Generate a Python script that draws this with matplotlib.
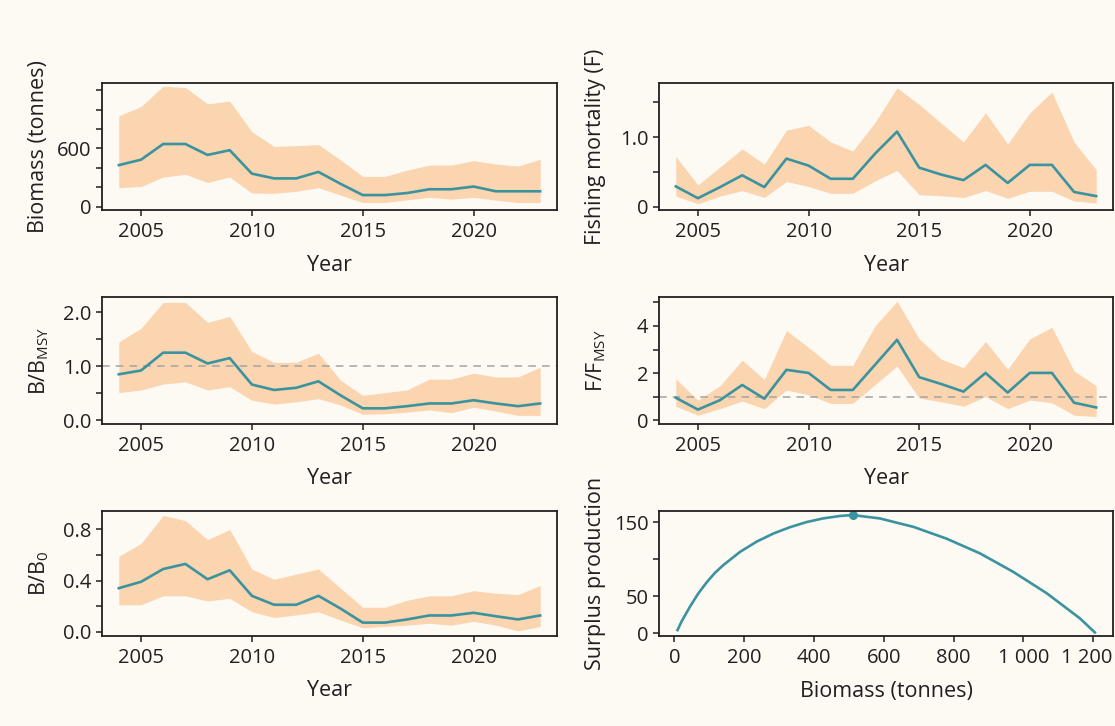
import numpy as np
import matplotlib.pyplot as plt
import matplotlib.transforms as mtransforms

# Stock assessment panels: biomass, fishing mortality, ratios and surplus production

years = list(range(2004, 2024))

# Biomass (tonnes)
biomass_mid = [428, 484, 646, 646, 533, 582, 340, 291, 291, 358,
               235, 119, 119, 140, 179, 179, 207, 158, 158, 158]
biomass_lo = [196, 207, 305, 333, 249, 305, 140, 137, 158, 196,
              119, 42, 42, 70, 95, 77, 95, 67, 42, 42]
biomass_hi = [937, 1032, 1242, 1228, 1060, 1088, 772, 621, 628, 639,
              481, 312, 312, 375, 428, 428, 474, 439, 418, 488]

# Fishing mortality (F)
f_mid = [0.29, 0.12, 0.28, 0.45, 0.28, 0.69, 0.59, 0.40, 0.40, 0.76,
         1.08, 0.56, 0.46, 0.38, 0.60, 0.34, 0.60, 0.60, 0.21, 0.15]
f_lo = [0.15, 0.04, 0.15, 0.23, 0.13, 0.36, 0.29, 0.19, 0.19, 0.37,
        0.52, 0.17, 0.155, 0.13, 0.23, 0.12, 0.22, 0.22, 0.08, 0.05]
f_hi = [0.72, 0.31, 0.57, 0.83, 0.61, 1.10, 1.17, 0.93, 0.80, 1.21,
        1.71, 1.47, 1.20, 0.93, 1.35, 0.90, 1.35, 1.65, 0.93, 0.53]

# B/BMSY
bbmsy_mid = [0.85, 0.92, 1.25, 1.25, 1.05, 1.15, 0.66, 0.56, 0.60, 0.72,
             0.46, 0.22, 0.22, 0.26, 0.31, 0.31, 0.37, 0.31, 0.26, 0.31]
bbmsy_lo = [0.51, 0.56, 0.67, 0.71, 0.56, 0.62, 0.37, 0.30, 0.34, 0.40,
            0.28, 0.11, 0.12, 0.15, 0.19, 0.14, 0.24, 0.17, 0.09, 0.09]
bbmsy_hi = [1.45, 1.70, 2.18, 2.18, 1.81, 1.92, 1.27, 1.07, 1.07, 1.24,
            0.74, 0.46, 0.51, 0.56, 0.76, 0.76, 0.87, 0.80, 0.80, 0.98]

# F/FMSY
ffmsy_mid = [0.96, 0.46, 0.86, 1.50, 0.92, 2.14, 2.01, 1.29, 1.29, 2.35,
             3.41, 1.83, 1.54, 1.22, 2.01, 1.18, 2.01, 2.01, 0.75, 0.55]
ffmsy_lo = [0.60, 0.22, 0.50, 0.82, 0.50, 1.29, 1.08, 0.72, 0.72, 1.51,
            2.30, 0.94, 0.79, 0.60, 1.01, 0.50, 0.86, 0.75, 0.22, 0.17]
ffmsy_hi = [1.76, 0.86, 1.47, 2.55, 1.73, 3.80, 3.09, 2.33, 2.33, 3.99,
            5.04, 3.45, 2.59, 2.23, 3.34, 2.16, 3.45, 3.94, 2.09, 1.47]

# B/B0
bb0_mid = [0.34, 0.39, 0.49, 0.53, 0.41, 0.48, 0.28, 0.21, 0.21, 0.28,
           0.18, 0.07, 0.07, 0.095, 0.126, 0.126, 0.147, 0.12, 0.095, 0.126]
bb0_lo = [0.21, 0.21, 0.28, 0.28, 0.24, 0.26, 0.155, 0.11, 0.13, 0.155,
          0.09, 0.03, 0.04, 0.05, 0.065, 0.05, 0.08, 0.05, 0.005, 0.04]
bb0_hi = [0.59, 0.69, 0.91, 0.87, 0.72, 0.80, 0.49, 0.41, 0.45, 0.49,
          0.34, 0.19, 0.19, 0.245, 0.28, 0.28, 0.32, 0.30, 0.29, 0.36]

# Surplus production curve
sp_biomass = [9, 21, 45, 69, 93, 117, 140, 188, 236, 284, 331, 379, 427, 475, 511,
              589, 685, 780, 876, 971, 1067, 1162, 1205]
sp_value = [4, 16, 36, 54, 69, 82, 92, 110, 124, 135, 143.5, 150.5, 155.5, 158.8, 160,
            155.4, 144, 128, 108, 83, 54, 20, 0.8]
msy_biomass = 511
msy_value = 160

# Colours
bg = '#fdf9f3'
band = '#fbd4b0'
teal = '#3a939e'
ink = '#231f20'

plt.rcParams['font.family'] = ['Open Sans', 'DejaVu Sans']
plt.rcParams['mathtext.fontset'] = 'custom'
plt.rcParams['mathtext.rm'] = 'Open Sans'
plt.rcParams['mathtext.it'] = 'Open Sans:italic'

W, H = 1115, 726
fig = plt.figure(figsize=(W / 100, H / 100), dpi=100, facecolor=bg)

tick_size = 14.5
label_size = 15.5


def make_axes(x0, x1, y0, y1):
    # pixel box -> figure fraction
    ax = fig.add_axes([x0 / W, 1 - y1 / H, (x1 - x0) / W, (y1 - y0) / H])
    ax.set_facecolor(bg)
    for s in ax.spines.values():
        s.set_color(ink)
        s.set_linewidth(1.3)
    ax.tick_params(direction='out', length=4.5, width=1.1, color=ink,
                   labelcolor=ink, labelsize=tick_size)
    ax.tick_params(axis='x', pad=4)
    ax.tick_params(axis='y', pad=3)
    return ax


def set_labels(ax, xlabel, ylabel, box_w, box_h):
    # fixed label lines, like R's mtext
    ax.set_xlabel(xlabel, fontsize=label_size, color=ink)
    ax.set_ylabel(ylabel, fontsize=label_size, color=ink)
    ax.xaxis.label.set_va('center')
    ax.yaxis.label.set_va('center')
    ax.xaxis.set_label_coords(0.5, -55 / box_h)
    ax.yaxis.set_label_coords(-63 / box_w, 0.5)


def time_panel(ax, mid, lo, hi, ylim, ticks, ticklabels, ylabel, box_w, box_h, ref=None):
    ax.fill_between(years, lo, hi, color=band, linewidth=0)
    if ref is not None:
        ax.axhline(ref, color='#a3a3a3', linestyle=(0, (5, 4)), linewidth=1.1)
    ax.plot(years, mid, color=teal, linewidth=1.9)
    ax.set_xlim(2003.24, 2023.76)
    ax.set_ylim(*ylim)
    ax.set_xticks([2005, 2010, 2015, 2020])
    ax.set_yticks(ticks)
    ax.set_yticklabels(ticklabels)
    set_labels(ax, 'Year', ylabel, box_w, box_h)


ax1 = make_axes(102, 557, 83, 210)
time_panel(ax1, biomass_mid, biomass_lo, biomass_hi, (-35, 1275),
           [0, 200, 400, 600, 800, 1000, 1200],
           ['0', '', '', '600', '', '', ''], 'Biomass (tonnes)', 455, 127)

ax2 = make_axes(659, 1113, 83, 210)
time_panel(ax2, f_mid, f_lo, f_hi, (-0.05, 1.78),
           [0, 0.5, 1.0, 1.5], ['0', '', '1.0', ''], 'Fishing mortality (F)', 454, 127)

ax3 = make_axes(102, 557, 297, 424)
time_panel(ax3, bbmsy_mid, bbmsy_lo, bbmsy_hi, (-0.07, 2.28),
           [0, 0.5, 1.0, 1.5, 2.0], ['0.0', '', '1.0', '', '2.0'],
           r'B/B$_{\mathrm{MSY}}$', 455, 127, ref=1.0)

ax4 = make_axes(659, 1113, 297, 424)
time_panel(ax4, ffmsy_mid, ffmsy_lo, ffmsy_hi, (-0.15, 5.22),
           [0, 1, 2, 3, 4, 5], ['0', '', '2', '', '4', ''],
           r'F/F$_{\mathrm{MSY}}$', 454, 127, ref=1.0)

ax5 = make_axes(102, 557, 511, 636)
time_panel(ax5, bb0_mid, bb0_lo, bb0_hi, (-0.035, 0.945),
           [0, 0.2, 0.4, 0.6, 0.8], ['0.0', '', '0.4', '', '0.8'],
           r'B/B$_{0}$', 455, 125)

# Surplus production vs biomass
ax6 = make_axes(659, 1113, 511, 636)
ax6.plot(sp_biomass, sp_value, color=teal, linewidth=1.9)
ax6.plot([msy_biomass], [msy_value], 'o', color=teal, markersize=5.5)
ax6.set_xlim(-44, 1257)
ax6.set_ylim(-4, 165.5)
ax6.set_xticks([0, 200, 400, 600, 800, 1000, 1200])
ax6.set_xticklabels(['0', '200', '400', '600', '800', '1 000', '1 200'])
ax6.set_yticks([0, 50, 100, 150])
ax6.set_yticklabels(['0', '50', '', '150'])
set_labels(ax6, 'Biomass (tonnes)', 'Surplus production', 454, 125)

# last label sits at the right edge; nudge it in so it stays whole
last = ax6.get_xticklabels()[-1]
last.set_transform(last.get_transform() +
                   mtransforms.ScaledTranslation(-6 / 100, 0, fig.dpi_scale_trans))

fig.savefig('out.png', dpi=100, facecolor=bg)
